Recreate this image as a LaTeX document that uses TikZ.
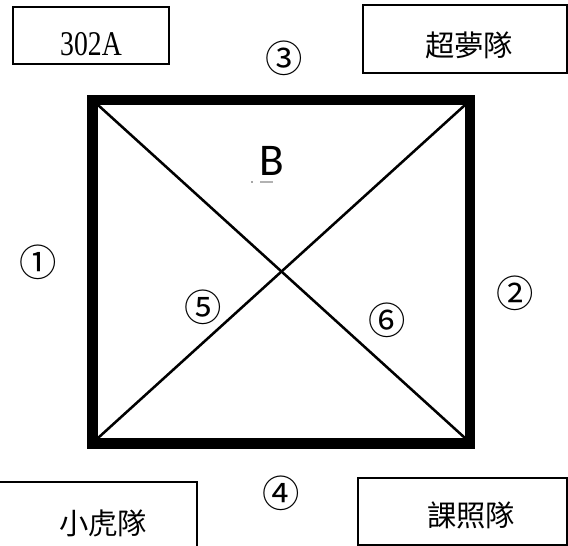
\documentclass[tikz,border=0pt]{standalone}
\usepackage{fontspec}
\setmainfont{Liberation Serif}
\newfontfamily\cjk{Noto Sans CJK TC}
\newfontfamily\bfnt{Carlito}
\begin{document}
\begin{tikzpicture}[x=0.75pt,y=-0.75pt,
  namebox/.style={draw,line width=1.5pt,inner sep=0pt},
  boxtext/.style={inner sep=0pt,font=\cjk\fontsize{22}{24}\selectfont},
  circnum/.style={inner sep=0pt,font=\cjk\fontsize{28}{30}\selectfont}]
\useasboundingbox (0,0) rectangle (568,546);
\fill[white] (0,0) rectangle (568,546);
% name boxes
\node[namebox,minimum width=117pt,minimum height=42.75pt] (b1) at (91,35.5) {};
\node[inner sep=0pt,font=\fontsize{26}{28}\selectfont] (t1) at (91,44) {\scalebox{0.8}[1]{302A}};
\node[namebox,minimum width=153pt,minimum height=51pt] (b2) at (465,39) {};
\node[boxtext] (t2) at (469,45) {超夢隊};
\node[namebox,minimum width=149pt,minimum height=49.5pt] (b3) at (97.5,515) {};
\node[boxtext] (t3) at (103,523) {小虎隊};
\node[namebox,minimum width=156.75pt,minimum height=50.25pt] (b4) at (462.5,511.5) {};
\node[boxtext] (t4) at (471,515) {課照隊};
% square
\coordinate (tl) at (98,105);
\coordinate (tr) at (465,105);
\coordinate (bl) at (98,438);
\coordinate (br) at (465,438);
\draw[line width=8pt] (92.5,100) rectangle (470,443.5);
\draw[line width=1.9pt] (tl) -- (br);
\draw[line width=1.9pt] (tr) -- (bl);
% labels
\node[inner sep=0pt,font=\bfnt\fontsize{34}{36}\selectfont] (B) at (272,161) {B};
\draw[gray!60,line width=0.9pt] (260,182) -- (273,182);
\fill[black!70] (252,182) circle (0.9);
\node[circnum] (c1) at (38,262) {①};
\node[circnum] (c2) at (515,293) {②};
\node[circnum] (c3) at (284,58) {③};
\node[circnum] (c4) at (281,493) {④};
\node[circnum] (c5) at (203,307) {⑤};
\node[circnum] (c6) at (387,320) {⑥};
\end{tikzpicture}
\end{document}
